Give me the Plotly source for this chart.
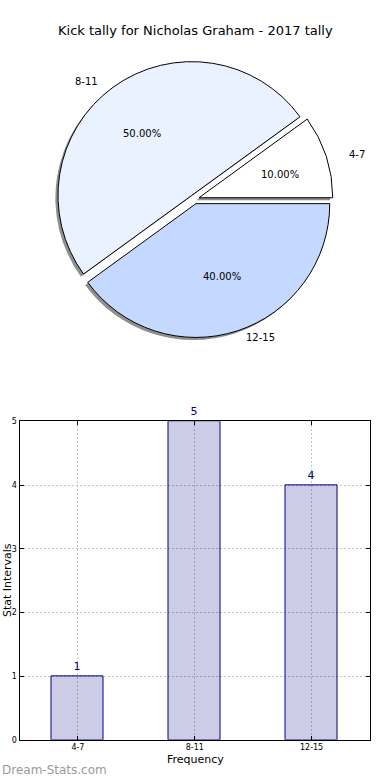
import math
import plotly.graph_objects as go

# ---- data ----
categories = ["4-7", "8-11", "12-15"]
counts = [1, 5, 4]
pie_colors = ["#FFFFFF", "#EAF1FF", "#C5D8FF"]
title_text = "Kick tally for Nicholas Graham - 2017 tally"
y_ticks = [0, 1, 2, 3, 4, 5]

W, H = 390, 780
FONT = "DejaVu Sans"

def px(x):
    return x / W

# vertical positions corrected for the observed screenshot mapping
def py(y):
    return 1 - ((y - 3) / 0.99) / H

cx, cy = 194.5, 198.5
R = 134
pull = 0.035
half = R * (1 + pull)
RX, RY = 141, 128
ROT = 54

fig = go.Figure()
sdx, sdy = -2.6, 2.6
fig.add_trace(go.Pie(
    labels=categories, values=counts, sort=False, direction="counterclockwise",
    rotation=ROT, pull=[pull] * len(counts), textinfo="none", hoverinfo="skip",
    marker=dict(colors=["#8f8f8f"] * len(counts), line=dict(width=0)),
    domain=dict(x=[px(cx + sdx - half), px(cx + sdx + half)],
                y=[py(cy + sdy + half), py(cy + sdy - half)]),
    showlegend=False,
))
fig.add_trace(go.Pie(
    labels=categories, values=counts, sort=False, direction="counterclockwise",
    rotation=ROT, pull=[pull] * len(counts), textinfo="none",
    marker=dict(colors=pie_colors, line=dict(color="black", width=1)),
    domain=dict(x=[px(cx - half), px(cx + half)],
                y=[py(cy + half), py(cy - half)]),
    showlegend=False,
))

annotations = []
total = sum(counts)
cum = 0
for cat, v in zip(categories, counts):
    mid = 2 * math.pi * (cum + v / 2) / total
    cum += v
    c, s = math.cos(mid), math.sin(mid)
    lx = cx + (pull + 1.1) * RX * c
    ly = cy - (pull + 1.1) * RY * s
    annotations.append(dict(
        x=px(lx), y=py(ly), xref="paper", yref="paper", text=cat, showarrow=False,
        xanchor="left" if c > 0 else "right", yanchor="middle",
        font=dict(family=FONT, size=10, color="black")))
    tx = cx + (pull + 0.6) * RX * c
    ty = cy - (pull + 0.6) * RY * s
    annotations.append(dict(
        x=px(tx), y=py(ty), xref="paper", yref="paper",
        text=f"{100 * v / total:.2f}%", showarrow=False,
        xanchor="center", yanchor="middle",
        font=dict(family=FONT, size=10, color="black")))

annotations.append(dict(x=px(195), y=py(30), xref="paper", yref="paper",
                        text=title_text, showarrow=False, xanchor="center", yanchor="middle",
                        font=dict(family=FONT, size=13, color="black")))

fig.add_trace(go.Bar(
    x=categories, y=counts, width=0.445,
    marker=dict(color="rgba(0,0,128,0.2)", line=dict(color="#000080", width=1)),
    text=[str(v) for v in counts], textposition="outside", cliponaxis=False,
    textfont=dict(family=FONT, size=11, color="#000080"),
    xaxis="x", yaxis="y", showlegend=False, hoverinfo="skip",
))

axis_common = dict(showline=True, linecolor="black", linewidth=1, mirror="allticks",
                   ticks="inside", ticklen=4, tickcolor="black",
                   showgrid=True, gridcolor="#c4c4c4", griddash="2px,2px", gridwidth=1,
                   zeroline=False, tickfont=dict(family=FONT, size=8, color="black"))

fig.update_layout(
    width=W, height=H, autosize=False,
    margin=dict(l=0, r=0, t=0, b=0),
    paper_bgcolor="white", plot_bgcolor="white",
    xaxis=dict(domain=[px(19.5), px(370)], range=[-0.5, 2.5], type="category",
               **axis_common),
    yaxis=dict(domain=[py(740), py(421)], range=[0, 5], tickvals=y_ticks,
               **axis_common),
    annotations=annotations + [
        dict(x=px(195), y=py(760), xref="paper", yref="paper", text="Frequency",
             showarrow=False, xanchor="center", yanchor="middle",
             font=dict(family=FONT, size=11, color="black")),
        dict(x=px(7), y=py(580), xref="paper", yref="paper", text="Stat Intervals",
             showarrow=False, xanchor="center", yanchor="middle", textangle=-90,
             font=dict(family=FONT, size=11, color="black")),
        dict(x=0, y=py(770), xref="paper", yref="paper", text="Dream-Stats.com",
             showarrow=False, xanchor="left", yanchor="middle",
             font=dict(family=FONT, size=12, color="#9a9a9a")),
    ],
    bargap=0,
)

css_js = (
    "var h=document.documentElement,b=document.body;"
    "h.style.margin='0';h.style.padding='0';h.style.overflow='hidden';"
    "b.style.margin='0';b.style.padding='0';b.style.overflow='hidden';"
)
fig.write_html("out.html", config={"displayModeBar": False}, post_script=css_js)
